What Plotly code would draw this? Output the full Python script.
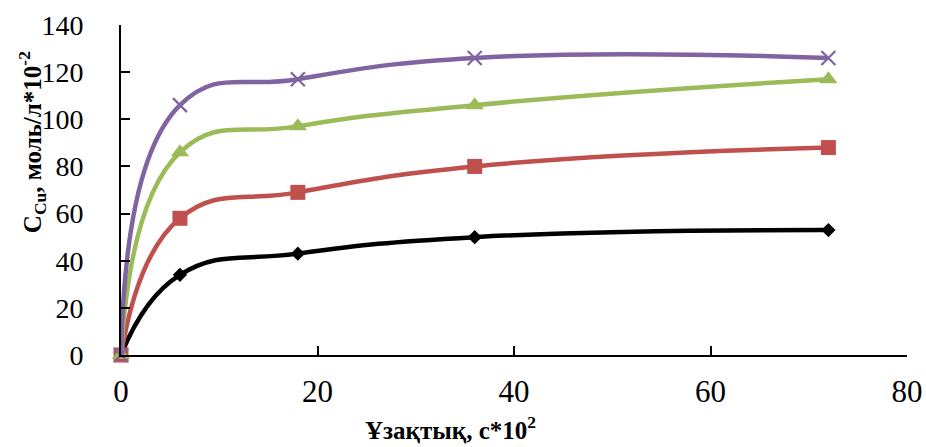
import plotly.graph_objects as go

time_x = [0, 6, 18, 36, 72]
series_black = [0, 34, 43, 50, 53]
series_red = [0, 58, 69, 80, 88]
series_green = [0, 86, 97, 106, 117]
series_purple = [0, 106, 117, 126, 126]

x_ticks = [0, 20, 40, 60, 80]
y_ticks = [0, 20, 40, 60, 80, 100, 120, 140]

FONT = "Liberation Serif"

fig = go.Figure()

specs = [
    (series_black, "#000000", "diamond", 11, None),
    (series_red, "#C0504D", "square", 15, None),
    (series_green, "#9BBB59", "triangle-up", 16, None),
    (series_purple, "#8064A2", "x-thin", 14, 2.2),
]
for ys, col, sym, sz, lw in specs:
    marker = dict(symbol=sym, size=sz, color=col)
    if lw:
        marker["line"] = dict(color=col, width=lw)
    fig.add_trace(go.Scatter(
        x=time_x, y=ys, mode="lines+markers",
        line=dict(color=col, width=4.5, shape="spline", smoothing=1.3),
        marker=marker, cliponaxis=False, showlegend=False,
    ))

fig.update_layout(
    width=926, height=447,
    margin=dict(l=121, r=19, t=25, b=92),
    paper_bgcolor="white", plot_bgcolor="white",
    font=dict(family=FONT, size=28, color="black"),
    showlegend=False,
)
fig.update_xaxes(
    range=[0, 80], tickvals=x_ticks, showgrid=False, zeroline=False,
    showline=True, linecolor="black", linewidth=2, automargin=False,
    ticks="inside", ticklen=9, tickwidth=2, tickcolor="black",
    tickfont=dict(family=FONT, size=31), ticklabelstandoff=8,
)
fig.update_yaxes(
    range=[0, 140], tickvals=y_ticks, showgrid=False, zeroline=False,
    showline=True, linecolor="black", linewidth=2, automargin=False,
    ticks="inside", ticklen=9, tickwidth=2, tickcolor="black",
    tickfont=dict(family=FONT, size=28), ticklabelstandoff=30,
)

fig.add_annotation(
    xref="paper", yref="paper", x=(450 - 121) / 786, y=-(428 - 355) / 330,
    text="<b>Ұзақтық, с*10<sup>2</sup></b>", showarrow=False,
    font=dict(family=FONT, size=25), xanchor="center", yanchor="middle",
)
fig.add_annotation(
    xref="paper", yref="paper", x=-0.113, y=(355 - 142) / 330,
    text="<b>C<sub>Cu</sub>, моль/л*10<sup>-2</sup></b>", showarrow=False,
    textangle=-90, font=dict(family=FONT, size=25),
    xanchor="center", yanchor="middle",
)

fig.write_html(
    "out.html",
    config={"displayModeBar": False},
    post_script="document.body.style.margin='0';document.body.style.padding='0';",
)
